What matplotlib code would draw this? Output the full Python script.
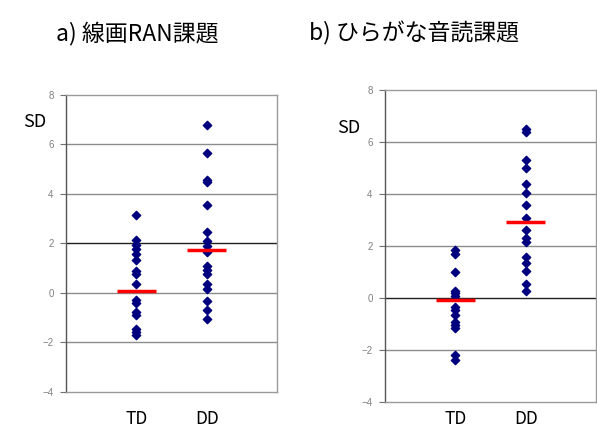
import matplotlib
matplotlib.use('Agg')
import matplotlib.pyplot as plt

plt.rcParams['font.family'] = ['Noto Sans CJK JP', 'DejaVu Sans']

# values (SD units)
groups = ['TD', 'DD']

ran_td = [3.15, 2.16, 1.92, 1.79, 1.58, 1.32, 0.89, 0.78, 0.35, -0.30,
          -0.40, -0.77, -0.90, -1.44, -1.57, -1.70]
ran_dd = [6.78, 5.64, 4.56, 4.47, 3.56, 2.48, 2.12, 1.89, 1.65, 1.11,
          0.94, 0.78, 0.35, 0.17, -0.32, -0.70, -1.05]
ran_means = [0.08, 1.74]

hira_td = [1.84, 1.68, 0.98, 0.27, 0.17, 0.07, -0.34, -0.47, -0.66, -0.92,
           -1.04, -1.17, -2.20, -2.40]
hira_dd = [6.48, 6.39, 5.30, 4.98, 4.40, 4.02, 3.57, 3.06, 2.61, 2.29,
           2.16, 1.58, 1.35, 1.04, 0.53, 0.27]
hira_means = [-0.10, 2.90]

titles = ['a) 線画RAN課題', 'b) ひらがな音読課題']
yticks = [-4, -2, 0, 2, 4, 6, 8]

fig = plt.figure(figsize=(5.97, 4.30), dpi=100)

# axes placed to match the reference boxes
ax_a = fig.add_axes([0.1106, 0.0884, 0.3534, 0.6907])
ax_b = fig.add_axes([0.6449, 0.0658, 0.3534, 0.7249])


def draw_panel(ax, td, dd, means, dark_line, xpad):
    ax.set_xlim(0, 3)
    ax.set_ylim(-4, 8)
    for y in yticks[1:-1]:
        c = '#202020' if y == dark_line else '#8c8c8c'
        ax.axhline(y, color=c, lw=1.0, zorder=1)
    ax.scatter([1] * len(td), td, marker='D', s=18, color='#00007f', zorder=3)
    ax.scatter([2] * len(dd), dd, marker='D', s=18, color='#00007f', zorder=3)
    for i, m in enumerate(means):
        ax.hlines(m, i + 1 - 0.28, i + 1 + 0.28, color='#ff0000', lw=2.5, zorder=4)
    ax.set_yticks(yticks)
    ax.set_yticklabels(['\u22124', '\u22122', '0', '2', '4', '6', '8'],
                       family='Liberation Sans')
    ax.tick_params(axis='y', labelsize=7, labelcolor='#808080', color='#707070',
                   length=4, width=0.8, direction='out', pad=5)
    ax.set_xticks([1, 2])
    ax.set_xticklabels(groups, fontsize=12.5)
    ax.tick_params(axis='x', length=0, pad=xpad)
    for s in ax.spines.values():
        s.set_color('#9a9a9a')
        s.set_linewidth(1.0)
    ax.spines['left'].set_color('#555555')


draw_panel(ax_a, ran_td, ran_dd, ran_means, 2, 13)
draw_panel(ax_b, hira_td, hira_dd, hira_means, 0, 6)

fig.text(137 / 597, 1 - 33 / 430, titles[0], fontsize=16.5, ha='center', va='center')
fig.text(414 / 597, 1 - 33 / 430, titles[1], fontsize=16.5, ha='center', va='center')
fig.text(35 / 597, 1 - 122 / 430, 'SD', fontsize=13, ha='center', va='center')
fig.text(349 / 597, 1 - 128 / 430, 'SD', fontsize=13, ha='center', va='center')

fig.savefig('out.png', dpi=100)
